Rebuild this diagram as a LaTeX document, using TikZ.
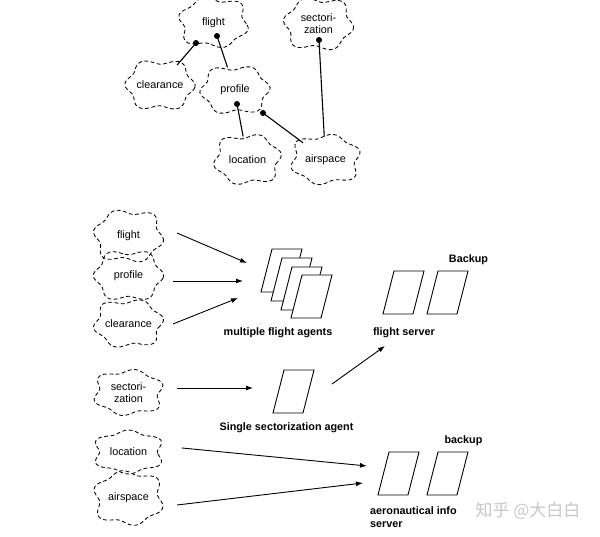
\documentclass[tikz,border=0pt]{standalone}
\usepackage{fontspec}
\setmainfont{Liberation Sans}
\newfontfamily\cjkfont{Noto Sans CJK SC}
\usetikzlibrary{arrows.meta,shapes.geometric,calc}
\tikzset{pics/para/.style={code={\draw[paraline] (0,0) -- (30,0) -- (19,43) -- (-11,43) -- cycle;}}}
\begin{document}
\begin{tikzpicture}[x=1pt,y=-1pt,
 cloud/.style={ellipse, minimum width=64pt, minimum height=46pt, inner sep=0pt, font=\fontsize{10.8}{12}\selectfont, align=center},
 cloudline/.style={draw, line width=0.85pt, dash pattern=on 3.8pt off 2.6pt},
 link/.style={line width=1.1pt},
 arr/.style={line width=0.9pt, -{Latex[length=7pt,width=5pt]}},
 paraline/.style={draw, line width=0.9pt, fill=white, line join=miter},
 lbl/.style={font=\bfseries\fontsize{10.8}{13.5}\selectfont}]
\useasboundingbox (0,0) rectangle (600,537);

% top tree clouds
\node[cloud] (tflight) at (213.5,22.5) {flight};
\node[cloud, minimum height=48pt] (tsect) at (318.5,24) {sectori-\\zation};
\node[cloud] (tclear) at (160,85) {clearance};
\node[cloud] (tprof) at (235,90) {profile};
\node[cloud] (tloc) at (247.5,159.5) {location};
\node[cloud] (tair) at (325.5,159.5) {airspace};

% bottom clouds
\node[cloud] (bflight) at (128.5,236) {flight};
\node[cloud] (bprof) at (128.5,275.5) {profile};
\node[cloud] (bclear) at (128.5,323.5) {clearance};
\node[cloud] (bsect) at (128.5,392.5) {sectori-\\zation};
\node[cloud] (bloc) at (128.5,452) {location};
\node[cloud] (bair) at (128.5,498) {airspace};

\foreach \n/\rx/\ry/\ph in {tflight/32/23/0, tsect/32/24/40, tclear/32/23/80, tprof/32/22/120, tloc/31/23/160, tair/32/23/200,
  bflight/32/24/30, bprof/32/23/90, bclear/32/22/150, bsect/32/21/210, bloc/32/20/270, bair/32/25/330}
  \draw[cloudline, shift={(\n.center)}] plot[smooth cycle, samples=60, domain=0:354]
   ({\rx*cos(\x)*(1+0.1*sin(6*\x+\ph))*(abs(cos(\x))^3+abs(sin(\x))^3)^(-0.25)},
    {\ry*sin(\x)*(1+0.1*sin(6*\x+\ph))*(abs(cos(\x))^3+abs(sin(\x))^3)^(-0.25)});

% tree connectors
\coordinate (d1) at (196,43);
\coordinate (d2) at (217,36);
\coordinate (d3) at (237,104);
\coordinate (d4) at (263,113);
\coordinate (d5) at (319,40);
\draw[link] (tclear) -- (d1);
\draw[link] (tprof) -- (d2);
\draw[link] (tloc) -- (d3);
\draw[link] (tair) -- (d4);
\draw[link] (tair) -- (d5);
\foreach \d in {d1,d2,d3,d4,d5} \fill (\d) circle (3pt);

% agents and servers
\pic at (272,249) {para};
\pic at (282,258) {para};
\pic at (292,267) {para};
\pic at (302,275) {para};
\pic at (394,271) {para};
\pic at (438,271) {para};
\pic at (284,370) {para};
\pic at (389,452) {para};
\pic at (438,452) {para};

% arrows
\coordinate (s1) at (177,233); \coordinate (e1) at (247,263);
\coordinate (s2) at (173,281); \coordinate (e2) at (243,281);
\coordinate (s3) at (173,324); \coordinate (e3) at (238,298);
\coordinate (s4) at (177,388); \coordinate (e4) at (253,388);
\coordinate (s5) at (332,384); \coordinate (e5) at (385,346);
\coordinate (s6) at (182,448); \coordinate (e6) at (367,466);
\coordinate (s7) at (177,505); \coordinate (e7) at (363,483);
\foreach \i in {1,...,7} \draw[arr] (s\i) -- (e\i);

% labels
\node[lbl] (mfa) at (278,333) {multiple flight agents};
\node[lbl] (fs) at (404,333) {flight server};
\node[lbl] (bk1) at (468.5,260) {Backup};
\node[lbl] (ssa) at (286.5,428) {Single sectorization agent};
\node[lbl] (bk2) at (463.5,441) {backup};
\node[lbl, align=left, anchor=west, inner sep=0pt] (ais) at (370,517) {aeronautical info\\server};
\node[text=black!22, font=\cjkfont\fontsize{17}{20}\selectfont] (wm) at (528,511) {知乎 @大白白};
\end{tikzpicture}
\end{document}
